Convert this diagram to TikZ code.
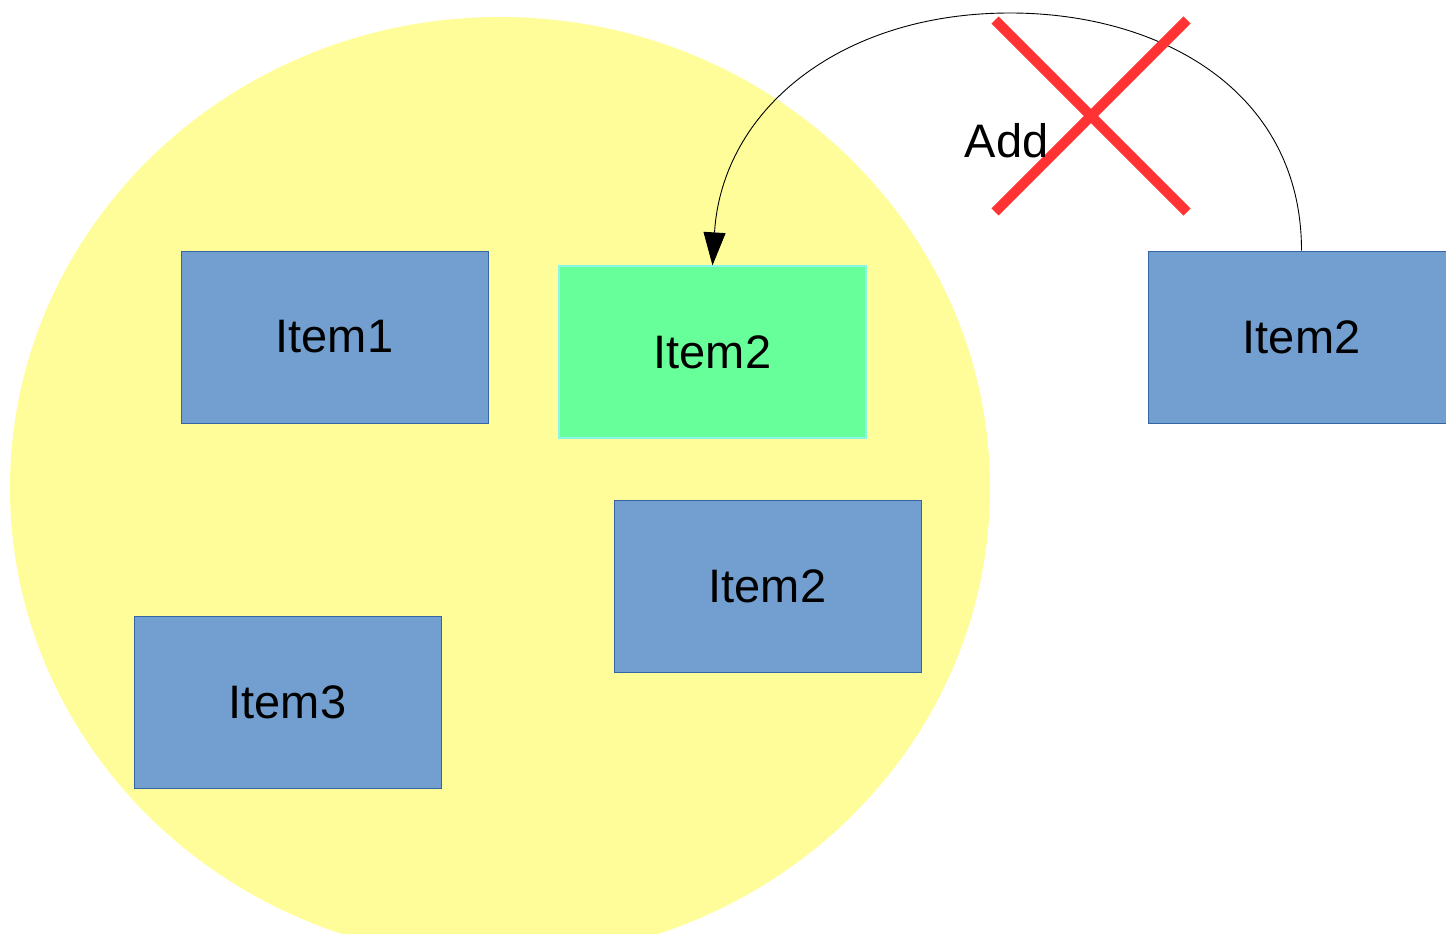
\documentclass[tikz,border=0pt]{standalone}
\usepackage{fontspec}
\setmainfont{Liberation Sans}
\usetikzlibrary{arrows.meta}
\definecolor{ybg}{HTML}{FFFD99}
\definecolor{bfill}{HTML}{729FCF}
\definecolor{bdraw}{HTML}{3465A4}
\definecolor{gfill}{HTML}{66FF99}
\definecolor{gdraw}{HTML}{8AF5E8}
\definecolor{xred}{HTML}{FF3333}
\tikzset{
  itembox/.style={rectangle, minimum width=307pt, minimum height=172pt, inner sep=0pt,
    fill=bfill, draw=bdraw, line width=1pt, font=\fontsize{47}{51}\selectfont},
  greenbox/.style={itembox, fill=gfill, draw=gdraw, line width=1.2pt},
  link/.style={line width=0.9pt, -{Triangle[length=33pt,width=22pt]}},
  cross/.style={draw=xred, line width=10pt},
  lbl/.style={font=\fontsize{47}{51}\selectfont, inner sep=0pt}
}
\begin{document}
\begin{tikzpicture}[x=1pt,y=-1pt]
\useasboundingbox (0,0) rectangle (1446,934);
\clip (0,0) rectangle (1446,934);
\fill[ybg] (500,488) ellipse [x radius=490, y radius=471];
\node[itembox] (i1) at (334.5,337) {Item1};
\node[greenbox] (g2) at (712.5,352) {Item2};
\node[itembox] (m2) at (767.5,586.5) {Item2};
\node[itembox] (i3) at (287.5,702) {Item3};
\node[itembox] (r2) at (1301.5,337) {Item2};
\coordinate (top) at (1010,13);
\draw[link] (r2.north) .. controls +(0,-160) and (1160,13) .. (top)
  .. controls (840,13) and (722,110) .. (g2.north);
\coordinate (xa) at (995,20);
\coordinate (xb) at (1187,212);
\coordinate (xc) at (1187,20);
\coordinate (xd) at (995,212);
\draw[cross] (xa) -- (xb);
\draw[cross] (xc) -- (xd);
\node[lbl] (add) at (1006.5,141) {Add};
\end{tikzpicture}
\end{document}
